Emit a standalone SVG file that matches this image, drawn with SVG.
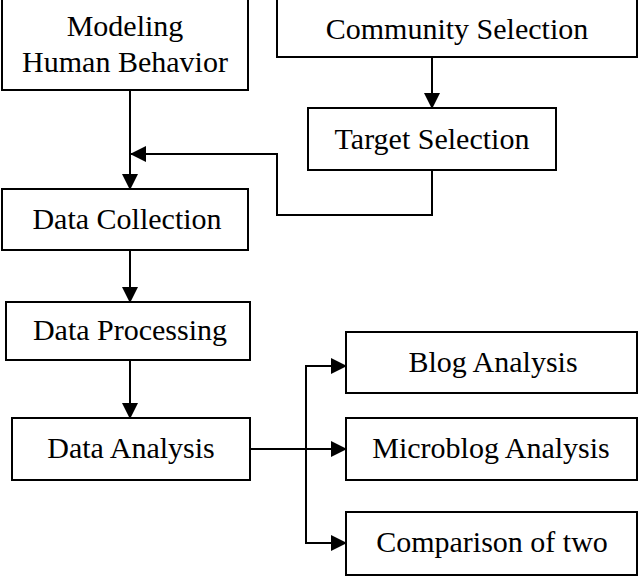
<svg xmlns="http://www.w3.org/2000/svg" width="639" height="577" viewBox="0 0 639 577">
<style>
rect{fill:#fff;stroke:#000;stroke-width:2}
text{font-family:"Liberation Serif",serif;font-size:30px;text-anchor:middle;fill:#000}
.c{fill:none;stroke:#000;stroke-width:2}
</style>
<defs><marker id="b" markerWidth="16" markerHeight="16" refX="15" refY="8" orient="auto" markerUnits="userSpaceOnUse"><path d="M0,0 L16,8 L0,16 z" fill="#000"/></marker></defs>
<rect width="639" height="577" style="stroke:none"/>
<g id="n1"><rect x="2" y="-1" width="246" height="91"/><text x="125" y="36">Modeling</text><text x="125" y="72">Human Behavior</text></g>
<g id="n2"><rect x="277" y="-1" width="360" height="58"/><text x="457" y="39">Community Selection</text></g>
<g id="n3"><rect x="308" y="108" width="248" height="62"/><text x="432" y="149">Target Selection</text></g>
<g id="n4"><rect x="2" y="189" width="246" height="61"/><text x="127" y="229">Data Collection</text></g>
<g id="n5"><rect x="6" y="302" width="244" height="58"/><text x="130" y="340">Data Processing</text></g>
<g id="n6"><rect x="12" y="418" width="238" height="62"/><text x="131" y="458">Data Analysis</text></g>
<g id="n7"><rect x="346" y="332" width="291" height="61"/><text x="493" y="372">Blog Analysis</text></g>
<g id="n8"><rect x="346" y="418" width="291" height="62"/><text x="491" y="458">Microblog Analysis</text></g>
<g id="n9"><rect x="346" y="512" width="291" height="63"/><text x="492" y="552">Comparison of two</text></g>
<g id="connectors">
<path class="c" d="M130,90 V189" marker-end="url(#b)"/>
<path class="c" d="M432,57 V108" marker-end="url(#b)"/>
<path class="c" d="M432,170 V215 H277 V154 H131" marker-end="url(#b)"/>
<path class="c" d="M130,250 V302" marker-end="url(#b)"/>
<path class="c" d="M130,360 V418" marker-end="url(#b)"/>
<path class="c" d="M250,449 H346" marker-end="url(#b)"/>
<path class="c" d="M306,449 V366 H346" marker-end="url(#b)"/>
<path class="c" d="M306,449 V543 H346" marker-end="url(#b)"/>
</g>
</svg>
